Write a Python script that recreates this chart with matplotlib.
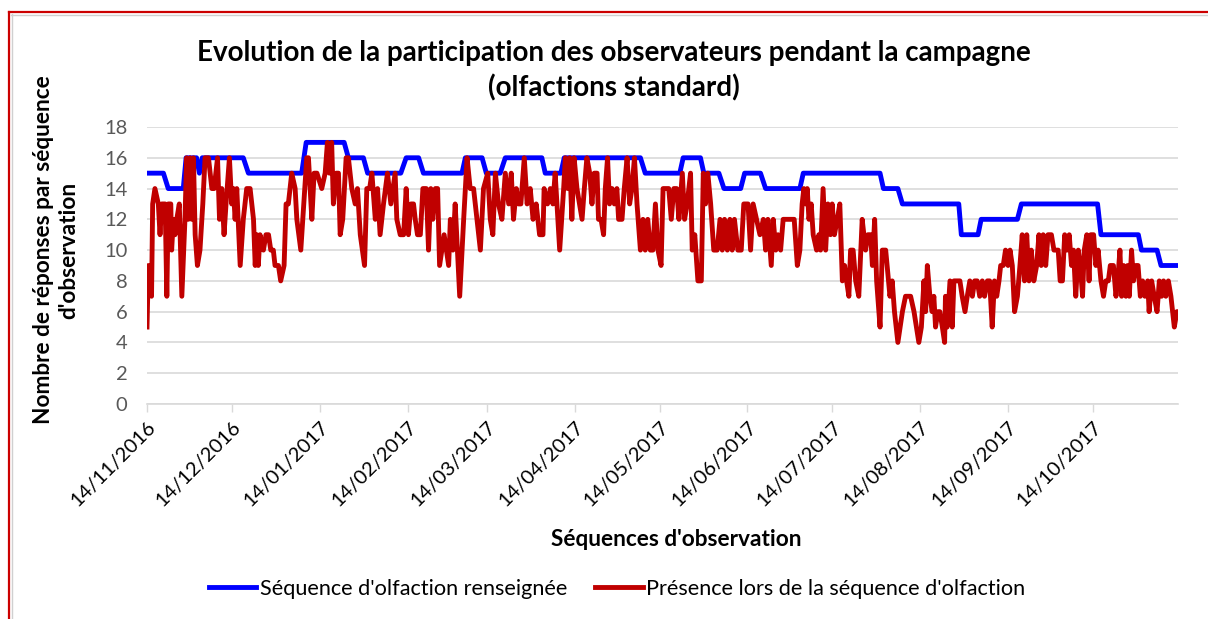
import matplotlib
matplotlib.use("Agg")
import matplotlib.pyplot as plt
import matplotlib.dates as mdates
from matplotlib.lines import Line2D
import numpy as np
import datetime as dt

# ---------------- data ----------------
start_date = dt.date(2016, 11, 14)
tick_dates = ["14/11/2016", "14/12/2016", "14/01/2017", "14/02/2017", "14/03/2017",
              "14/04/2017", "14/05/2017", "14/06/2017", "14/07/2017", "14/08/2017",
              "14/09/2017", "14/10/2017"]

# "Séquence d'olfaction renseignée" (days since start, value)
blue_days = [0, 5.8, 7.5, 12.8, 13.8, 17.5, 18.5, 19.5, 34, 35.8, 54.6, 56.2, 69.6, 71.1,
             76.4, 77.9, 89.6, 91.5, 95.9, 97.6, 111.2, 112.4, 118.3, 119.8, 124.7, 126.5,
             139.4, 140.6, 146.1, 147.3, 174.2, 175.9, 188.1, 189.3, 195.4, 196.6, 201.9,
             203.7, 209.6, 211, 216.6, 218.4, 230.5, 231.7, 258.8, 260, 265.1, 266.7,
             286.6, 287.5, 293.4, 294.5, 307.3, 308.7, 335.6, 336.8, 350, 351.1, 356.6,
             358, 364]
blue_vals = [15, 15, 14, 14, 16, 16, 15, 16, 16, 15, 15, 17, 17, 16,
             16, 15, 15, 16, 16, 15, 15, 16, 16, 15, 15, 16,
             16, 15, 15, 16, 16, 15, 15, 16, 16, 15, 15,
             14, 14, 15, 15, 14, 14, 15, 15, 14, 14, 13,
             13, 11, 11, 12, 12, 13, 13, 11, 11, 10, 10,
             9, 9]

# "Présence lors de la séquence d'olfaction" (days since start, value)
red_days = [0, 0.5, 1.6, 2, 2.8, 4, 4.6, 5.2, 6.4, 7, 7.5, 8.4, 8.7, 9.3, 9.9, 10.5, 11.4,
            12.3, 13.4, 14, 14.6, 15.2, 15.8, 16.4, 17, 17.8, 18.7, 19.7, 20.5, 21.7, 22.9,
            23.7, 24.9, 25.6, 26.4, 27.2, 27.9, 29.1, 29.9, 30.5, 31.1, 31.7, 32.9, 34,
            35.2, 36.4, 37.6, 38.2, 38.8, 39.3, 39.9, 41.1, 42, 42.9, 43.7,
            44.6, 45.2, 46.4, 47.2, 48.4, 49.1, 49.9, 50.5, 51.1, 52.3, 52.9, 54.3, 56.4,
            57, 57.6, 58.2, 59, 60, 61.7, 62.9, 63.7, 64.4, 65.2, 65.8, 66.8, 67.6, 68.2,
            69.1, 70.3, 71.1, 72.3, 73.5, 74.3, 75.3, 76.8, 77.6, 78.6, 79.4, 80.6, 81.4,
            82.3, 83.5, 84.9, 86.1, 87.6, 88.2, 89.4,
            90.6, 91.5, 92.3, 93.2, 94.1, 94.7, 95.5, 96.5, 97.4, 98.6, 99.4, 100.2, 100.9,
            101.8, 102.6, 103.3, 104.1, 104.9, 105.7, 106.5, 107.1, 108, 108.8, 110.4,
            111.8, 113, 114.1, 115.3, 116.5, 117.7, 118.8, 120.3, 121.2, 122.1, 123, 124.1,
            125.3, 126.5, 127.7, 128.6, 129.4, 130.4, 131.2, 132, 133.2, 134.2, 135.3,
            136.3, 137.4, 138.6, 139.8, 140.2, 141.4, 142.4, 143.3, 144.1, 145.7, 147.1,
            147.7, 148.5, 149.2, 150, 150.8, 151.8, 152.7, 153.6, 154.4, 155.3, 156.3,
            157.1, 157.9, 158.9, 159.4, 160.3, 161.2, 161.8, 162.6, 163.3, 164.2, 165,
            165.9, 166.5, 167.7, 168.5, 169.5, 170.4, 171.2, 172.1, 173, 174.2, 175.1,
            175.9, 176.8, 177.7, 178.6, 179.5, 180.4, 181.5,
            182.2, 183, 184.2, 185.1, 186, 187, 187.8, 189, 189.8, 190.7, 191.9, 192.5,
            193.4, 194.5, 195.7, 196.4, 197.2, 198, 199, 200.1, 201.3, 202.3, 203.1,
            203.9, 204.9, 205.8, 206.6, 207.4, 208.6, 209.8, 210.7, 212.2, 213.1, 214,
            215.2, 216.4, 217.6, 218.4, 219.2, 220.4, 221.1, 222, 222.8, 223.7, 224.6,
            226.1, 227.2, 228.5,
            229.6, 230.5, 231.3, 231.9, 232.5, 233.1, 233.7, 234.5, 235.2, 236.4, 237.2,
            237.8, 238.7, 239.6, 240.4, 241.3, 241.9, 242.7, 243.7, 244.6, 245.5, 246.3,
            247, 247.8, 248.4, 249.3, 250.2, 251.3, 252.5, 253.7, 254.5, 255.5, 256.1,
            256.9, 257.6, 258.8, 259.6, 260.8, 262.3, 263.1, 263.9, 265.1, 266.7, 267.8,
            269.6, 270.8, 272.5,
            273.4, 274.3, 274.9, 275.5, 276.4, 277.2, 277.8, 278.4, 279.2, 279.9, 280.8,
            281.6, 281.9, 282.5, 283.5, 284.3, 284.9, 286.1, 287, 287.8, 288.8, 289.6,
            290.5, 291.4, 292.2, 293.1, 294, 294.9, 295.7, 296.7, 297.5, 298.4, 299.2,
            300, 300.8, 301.4, 302.3, 303.1, 304, 304.7, 305.5, 306.3, 307.3, 308.2, 309,
            309.8, 310.6, 311.4, 312.2, 313.1, 314.1, 314.9, 315.7, 316.4, 317.3, 318.1,
            319.3, 320.2,
            320.9, 321.7, 322.4, 323.2, 324, 324.8, 325.6, 326.4, 327.1, 327.9, 328.8,
            329.5, 330.3, 330.9, 331.8, 332.6, 333.2, 334.2, 335, 335.8, 336.8, 337.7,
            338.5, 339.4, 340.1, 341.2, 342.1, 342.7, 343.5, 344.1, 344.8, 345.6, 346.2,
            346.8, 347.6, 348.3, 349.1, 349.9, 350.7, 351.5, 352.3, 353.3, 353.8, 354.7,
            355.6, 356.6, 357.4, 358.2, 358.9, 359.7, 360.6, 361.5, 362.7, 363.6, 364]
red_vals = [5, 9, 7, 13, 14, 13, 11, 13, 13, 7, 13, 13, 10, 12, 11, 12, 13,
            7, 12, 16, 12, 16, 12, 16, 11, 9, 10, 13, 16, 16, 14,
            14, 16, 12, 14, 11, 13, 16, 13, 14, 12, 14, 9, 12,
            14, 14, 12, 9, 11, 9, 11, 10, 11, 11, 10,
            10, 9, 9, 8, 9, 13, 13, 14, 15, 14, 12, 10, 16,
            16, 14, 12, 15, 15, 14, 15, 17, 15, 17, 13, 15, 15, 11,
            12, 16, 16, 14, 13, 14, 11, 9, 14, 14, 15, 12, 14,
            11, 13, 15, 13, 15, 12, 11,
            11, 14, 11, 13, 13, 12, 11, 11, 14, 14, 10, 14, 12,
            14, 14, 9, 10, 11, 10, 9, 12, 10, 13, 7,
            12, 16, 14, 14, 12, 10, 14, 15, 12, 11, 15, 13,
            12, 15, 13, 15, 12, 14, 13, 13, 16, 13, 14,
            12, 13, 11, 11, 14, 13, 14, 13, 15, 10, 14,
            16, 14, 16, 12, 16, 14, 13, 12, 14, 16, 15,
            13, 15, 15, 12, 12, 11, 14, 16, 13, 14, 13,
            14, 12, 12, 14, 16, 13, 14, 16, 13, 10, 12,
            10, 12, 10, 10, 13, 10, 9,
            14, 14, 14, 12, 14, 14, 12, 15, 12, 13, 15, 10,
            11, 8, 8, 15, 13, 15, 13, 10, 10, 12, 10,
            12, 10, 12, 10, 12, 10, 10, 13, 13, 10, 13,
            12, 11, 12, 10, 12, 9, 12, 10, 11, 10, 12,
            12, 12, 12,
            9, 10, 13, 14, 13, 14, 12, 13, 11, 10, 11,
            10, 14, 10, 13, 11, 13, 11, 12, 13, 8, 9,
            8, 7, 10, 10, 8, 7, 12, 10, 11, 11, 9,
            12, 8, 5, 10, 10, 7, 8, 6, 4, 6, 7,
            7, 6, 4,
            5, 8, 6, 9, 7, 6, 7, 5, 6, 6, 5,
            4, 7, 5, 8, 5, 8, 8, 8, 7, 6, 7,
            8, 7, 8, 8, 7, 8, 7, 8, 8, 5, 8,
            7, 8, 9, 9, 10, 9, 10, 9, 6, 7, 9, 11,
            8, 11, 8, 10, 8, 9, 11, 9, 11, 9, 11,
            11, 10,
            10, 10, 8, 8, 11, 10, 11, 9, 10, 7, 10,
            9, 7, 10, 11, 8, 11, 11, 9, 10, 8, 7,
            8, 8, 9, 9, 7, 8, 10, 7, 9, 7, 9,
            7, 10, 8, 9, 9, 7, 8, 7, 8, 6, 8,
            7, 6, 8, 7, 8, 7, 8, 7, 5, 6, 6]

series_labels = ["Séquence d'olfaction renseignée", "Présence lors de la séquence d'olfaction"]
title_text = "Evolution de la participation des observateurs pendant la campagne\n(olfactions standard)"
xlabel_text = "Séquences d'observation"
ylabel_text = "Nombre de réponses par séquence\nd'observation"

# ---------------- figure ----------------
FONT = ["Lato", "DejaVu Sans"]
plt.rcParams['font.family'] = FONT

W, H = 1208, 619
fig = plt.figure(figsize=(W / 100, H / 100), dpi=100)
ax = fig.add_axes([147 / W, 1 - 404 / H, (1178 - 147) / W, (404 - 127) / H])

t0 = mdates.date2num(start_date)
bx = t0 + np.array(blue_days, dtype=float)
rx = t0 + np.array(red_days, dtype=float)

ax.plot(bx, blue_vals, color="#0000FF", lw=3.5, solid_joinstyle="round", zorder=3)
ax.plot(rx, red_vals, color="#C00000", lw=3.5, solid_joinstyle="round", zorder=4)

ax.set_ylim(0, 18)
ax.set_yticks(range(0, 19, 2))
ax.set_xlim(t0, t0 + 364)
ticks = [mdates.date2num(dt.datetime.strptime(s, "%d/%m/%Y")) for s in tick_dates]
ax.set_xticks(ticks)
ax.set_xticklabels(tick_dates, rotation=45, ha="right", va="top",
                   rotation_mode="anchor", fontsize=14.5, color="#000000")
ax.tick_params(axis="x", length=6, color="#D9D9D9", width=1, pad=4)
ax.tick_params(axis="y", length=0, labelsize=14.5, labelcolor="#595959", pad=14)

ax.grid(axis="y", color="#D9D9D9", lw=1.2)
ax.set_axisbelow(True)
for s in ["top", "right", "left"]:
    ax.spines[s].set_visible(False)
ax.spines["bottom"].set_color("#D9D9D9")
ax.spines["bottom"].set_linewidth(1.2)

fig.text(614 / W, 1 - 71 / H, title_text, ha="center", va="center",
         fontsize=20, fontweight="bold", linespacing=1.38)
fig.text(676 / W, 1 - 539 / H, xlabel_text, ha="center", va="center",
         fontsize=16.3, fontweight="bold")
fig.text(56 / W, 1 - 250 / H, ylabel_text, ha="center", va="center",
         rotation=90, fontsize=16.3, fontweight="bold", linespacing=1.25)

handles = [Line2D([], [], color="#0000FF", lw=3.5),
           Line2D([], [], color="#C00000", lw=3.5)]
fig.legend(handles, series_labels, loc="center", bbox_to_anchor=(617 / W, 1 - 589 / H),
           ncol=2, frameon=False, fontsize=15.6, handlelength=2.2, handletextpad=0.15,
           columnspacing=1.3)

# chart border
fig.add_artist(Line2D([9 / W, 9 / W], [1 - 12 / H, 0], color="#CC0000", lw=1.6,
                      transform=fig.transFigure))
fig.add_artist(Line2D([9 / W, 1], [1 - 12 / H, 1 - 12 / H], color="#CC0000", lw=1.6,
                      transform=fig.transFigure))
fig.add_artist(Line2D([11 / W, 1], [1 - 14.5 / H, 1 - 14.5 / H], color="#D0D0D0", lw=1.0,
                      transform=fig.transFigure))
fig.add_artist(Line2D([11.5 / W, 11.5 / W], [1 - 14 / H, 0], color="#D0D0D0", lw=1.0,
                      transform=fig.transFigure))

fig.savefig("out.png", dpi=100)
